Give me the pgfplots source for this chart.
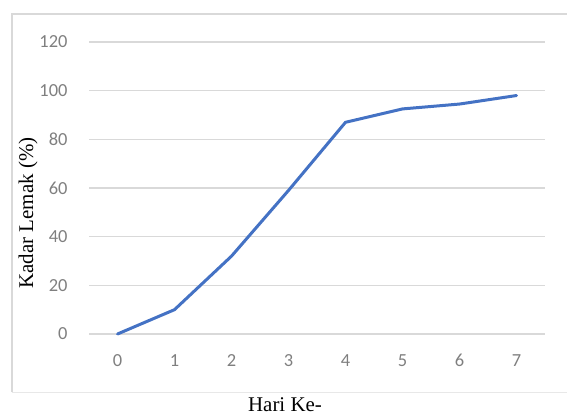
\documentclass[border=0pt]{standalone}
\usepackage{pgfplots}
\pgfplotsset{compat=1.18}
\usepackage{fontspec}
\setmainfont{Liberation Serif}
\newfontfamily\tickfont{Carlito}
\definecolor{gridgray}{HTML}{D9D9D9}
\definecolor{ticktxt}{HTML}{7F7F7F}
\definecolor{exblue}{HTML}{4472C4}
\begin{document}
\begin{tikzpicture}[x=1bp,y=1bp]
\useasboundingbox (0,0) rectangle (567,416);
\draw[gridgray, line width=1.5bp] (12,24) -- (12,402) -- (570,402);
\draw[gridgray!60, line width=1bp] (12,24) -- (570,24);
\begin{axis}[
  at={(89bp,82bp)}, anchor=south west,
  scale only axis, width=456bp, height=292bp,
  xmin=-0.5, xmax=7.5, ymin=0, ymax=120,
  xtick={0,...,7}, ytick={0,20,...,120},
  axis line style={draw=none},
  major tick length=0pt,
  ymajorgrids, grid style={gridgray, line width=1.3bp},
  tick label style={font=\tickfont\fontsize{18.5}{18.5}\selectfont, text=ticktxt},
  /pgf/number format/assume math mode=true,
  yticklabel style={xshift=-18bp},
  xticklabel style={yshift=-17bp},
  clip=false,
]
\addplot[exblue, line width=3bp, line join=round, line cap=round] coordinates {
(0,0) (1,10) (2,32) (3,59) (4,87) (5,92.5) (6,94.5) (7,98)
};
\end{axis}
\node[rotate=90, font=\fontsize{21}{21}\selectfont] at (28,203) {Kadar Lemak (\%)};
\node[anchor=base, font=\fontsize{21}{21}\selectfont] at (285,4.5) {Hari Ke-};
\end{tikzpicture}
\end{document}
